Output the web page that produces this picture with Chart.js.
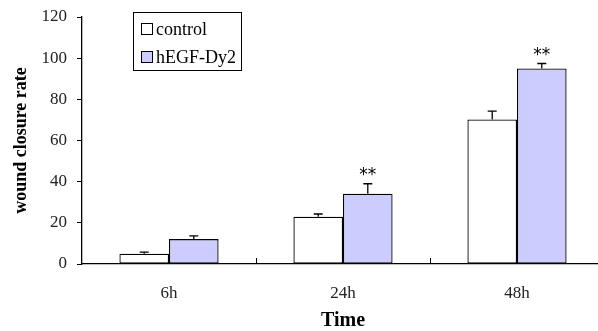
<!DOCTYPE html>
<html lang="en">

<head>
    <meta charset="UTF-8">
    <title>wound closure</title>
    <script src="https://cdn.jsdelivr.net/npm/chart.js@4.4.1/dist/chart.umd.min.js"></script>
    <style>
        html, body {
            margin: 0;
            padding: 0;
            overflow: hidden;
            background: #fff;
        }
        #wrap {
            width: 606px;
            height: 331px;
        }
    </style>
</head>

<body>
    <div id="wrap"><canvas id="myChart"></canvas></div>

    <script>
        const categories = ['6h', '24h', '48h'];
        const control = [5.0, 23.0, 70.2];
        const controlErr = [5.8, 24.3, 74.3];   // top of error bar
        const hegf = [12.1, 34.1, 95.0];
        const hegfErr = [13.7, 39.0, 97.4];
        const hegfSig = ['', '**', '**'];
        const yTicks = [0, 20, 40, 60, 80, 100, 120];

        const serif = '"Liberation Serif", "Times New Roman", serif';

        // error bars, significance marks, inner x ticks and the boxed legend
        const extras = {
            id: 'extras',
            afterDatasetsDraw(chart) {
                const ctx = chart.ctx;
                const x = chart.scales.x, y = chart.scales.y;
                const errs = [controlErr, hegfErr];
                ctx.save();
                ctx.strokeStyle = '#000';
                ctx.lineWidth = 1.3;
                errs.forEach((err, di) => {
                    const meta = chart.getDatasetMeta(di);
                    meta.data.forEach((bar, i) => {
                        const top = y.getPixelForValue(err[i]);
                        ctx.beginPath();
                        ctx.moveTo(bar.x, bar.y);
                        ctx.lineTo(bar.x, top);
                        ctx.moveTo(bar.x - 4.5, top);
                        ctx.lineTo(bar.x + 4.5, top);
                        ctx.stroke();
                    });
                });

                // ** above hEGF bars
                ctx.fillStyle = '#000';
                ctx.font = '17px "DejaVu Sans", sans-serif';
                ctx.textAlign = 'center';
                ctx.textBaseline = 'middle';
                chart.getDatasetMeta(1).data.forEach((bar, i) => {
                    if (!hegfSig[i]) return;
                    ctx.fillText(hegfSig[i], bar.x, y.getPixelForValue(hegfErr[i]) - 8);
                });

                // small upward ticks between categories
                const step = x.getPixelForValue(1) - x.getPixelForValue(0);
                ctx.lineWidth = 1;
                for (let i = 1; i < categories.length; i++) {
                    const px = Math.round(x.getPixelForValue(i) - step / 2) + 0.5;
                    ctx.beginPath();
                    ctx.moveTo(px, y.bottom);
                    ctx.lineTo(px, y.bottom - 6);
                    ctx.stroke();
                }

                // legend
                ctx.lineWidth = 1;
                ctx.strokeRect(133.5, 12.5, 108, 58);
                ctx.font = '18px ' + serif;
                ctx.textAlign = 'left';
                chart.data.datasets.forEach((ds, i) => {
                    const cy = 29 + i * 28;
                    ctx.fillStyle = ds.backgroundColor;
                    ctx.fillRect(141.5, cy - 5.5, 11, 11);
                    ctx.strokeRect(141.5, cy - 5.5, 11, 11);
                    ctx.fillStyle = '#000';
                    ctx.fillText(ds.label, 156, cy + 1);
                });
                ctx.restore();
            }
        };

        const ctx = document.getElementById('myChart').getContext('2d');
        new Chart(ctx, {
            type: 'bar',
            data: {
                labels: categories,
                datasets: [{
                    label: 'control',
                    data: control,
                    backgroundColor: '#ffffff',
                    borderColor: '#000',
                    borderWidth: 1.3,
                    borderSkipped: false
                }, {
                    label: 'hEGF-Dy2',
                    data: hegf,
                    backgroundColor: '#ccccff',
                    borderColor: '#000',
                    borderWidth: 1.3,
                    borderSkipped: false
                }]
            },
            options: {
                responsive: true,
                maintainAspectRatio: false,
                animation: false,
                layout: { padding: { top: 17, right: 2, left: 0, bottom: 0 } },
                datasets: {
                    bar: { categoryPercentage: 0.57, barPercentage: 1.0 }
                },
                plugins: {
                    legend: { display: false },
                    tooltip: { enabled: false }
                },
                scales: {
                    x: {
                        grid: { display: false },
                        border: { color: '#000', width: 1.3 },
                        ticks: {
                            color: '#222',
                            padding: 11,
                            font: { family: serif, size: 17 }
                        },
                        title: {
                            display: true,
                            text: 'Time',
                            color: '#000',
                            padding: { top: 0, bottom: 0 },
                            font: { family: serif, size: 20, weight: 'bold', lineHeight: 1.0 }
                        },
                        afterFit(scale) { scale.height = 67; }
                    },
                    y: {
                        min: 0,
                        max: 120,
                        afterBuildTicks(scale) {
                            scale.ticks = yTicks.map(v => ({ value: v }));
                        },
                        grid: {
                            drawOnChartArea: false,
                            drawTicks: true,
                            tickLength: 5,
                            color: '#000'
                        },
                        border: { color: '#000', width: 1.3 },
                        ticks: {
                            color: '#222',
                            padding: 10,
                            font: { family: serif, size: 17 }
                        },
                        title: {
                            display: true,
                            text: 'wound closure rate',
                            color: '#000',
                            padding: { top: 11, bottom: 0 },
                            font: { family: serif, size: 18, weight: 'bold' }
                        },
                        afterFit(scale) {
                            scale.width = 82;
                            scale.paddingTop = 0;
                            scale.paddingBottom = 0;
                        }
                    }
                }
            },
            plugins: [extras]
        });
    </script>

</body>

</html>
